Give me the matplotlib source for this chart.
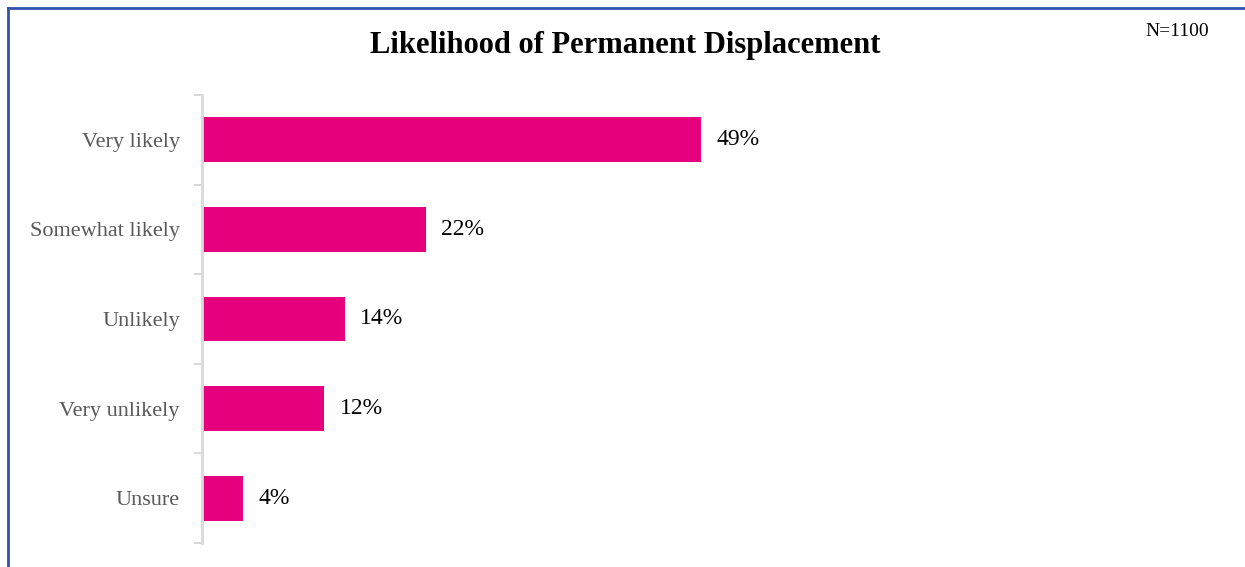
import numpy as np
import matplotlib.pyplot as plt
from matplotlib.lines import Line2D

categories = ["Very likely", "Somewhat likely", "Unlikely", "Very unlikely", "Unsure"]
values = [49, 22, 14, 12, 4]

plt.rcParams['font.family'] = ['Liberation Serif', 'DejaVu Serif']

fig = plt.figure(figsize=(12.45, 5.67), dpi=100)
ax = fig.add_axes([202/1245, 24/567, 611/1245, 448/567])

y = np.arange(len(categories))
ax.barh(y, values, height=0.5, color="#E6007E")
ax.set_xlim(0, 60)
ax.set_ylim(len(categories) - 0.5, -0.5)

for yi, v in zip(y, values):
    ax.text(v + 1.5, yi, f"{v}%", va="center", ha="left", fontsize=17, color="black")

ax.set_yticks(y)
ax.set_yticklabels(categories, fontsize=16, color="#595959")
ax.tick_params(axis="y", which="major", length=0, pad=16)
ax.set_yticks(np.arange(len(categories) + 1) - 0.5, minor=True)
ax.tick_params(axis="y", which="minor", length=6, width=1.5, color="#d9d9d9")
ax.set_xticks([])

for s in ["top", "right", "bottom"]:
    ax.spines[s].set_visible(False)
ax.spines["left"].set_color("#d9d9d9")
ax.spines["left"].set_linewidth(2)

fig.text(625/1245, 1 - 45/567, "Likelihood of Permanent Displacement",
         ha="center", va="center", fontsize=22, fontweight="bold")
fig.text(1177/1245, 1 - 31/567, "N=1100", ha="center", va="center", fontsize=14)

# outer frame, top and left edges only
fig.add_artist(Line2D([8/1245, 8/1245], [0, 1 - 8/567], transform=fig.transFigure,
                      color="#3350b0", lw=2))
fig.add_artist(Line2D([8/1245, 1], [1 - 8/567, 1 - 8/567], transform=fig.transFigure,
                      color="#3350b0", lw=2))

fig.savefig("out.png", dpi=100)
